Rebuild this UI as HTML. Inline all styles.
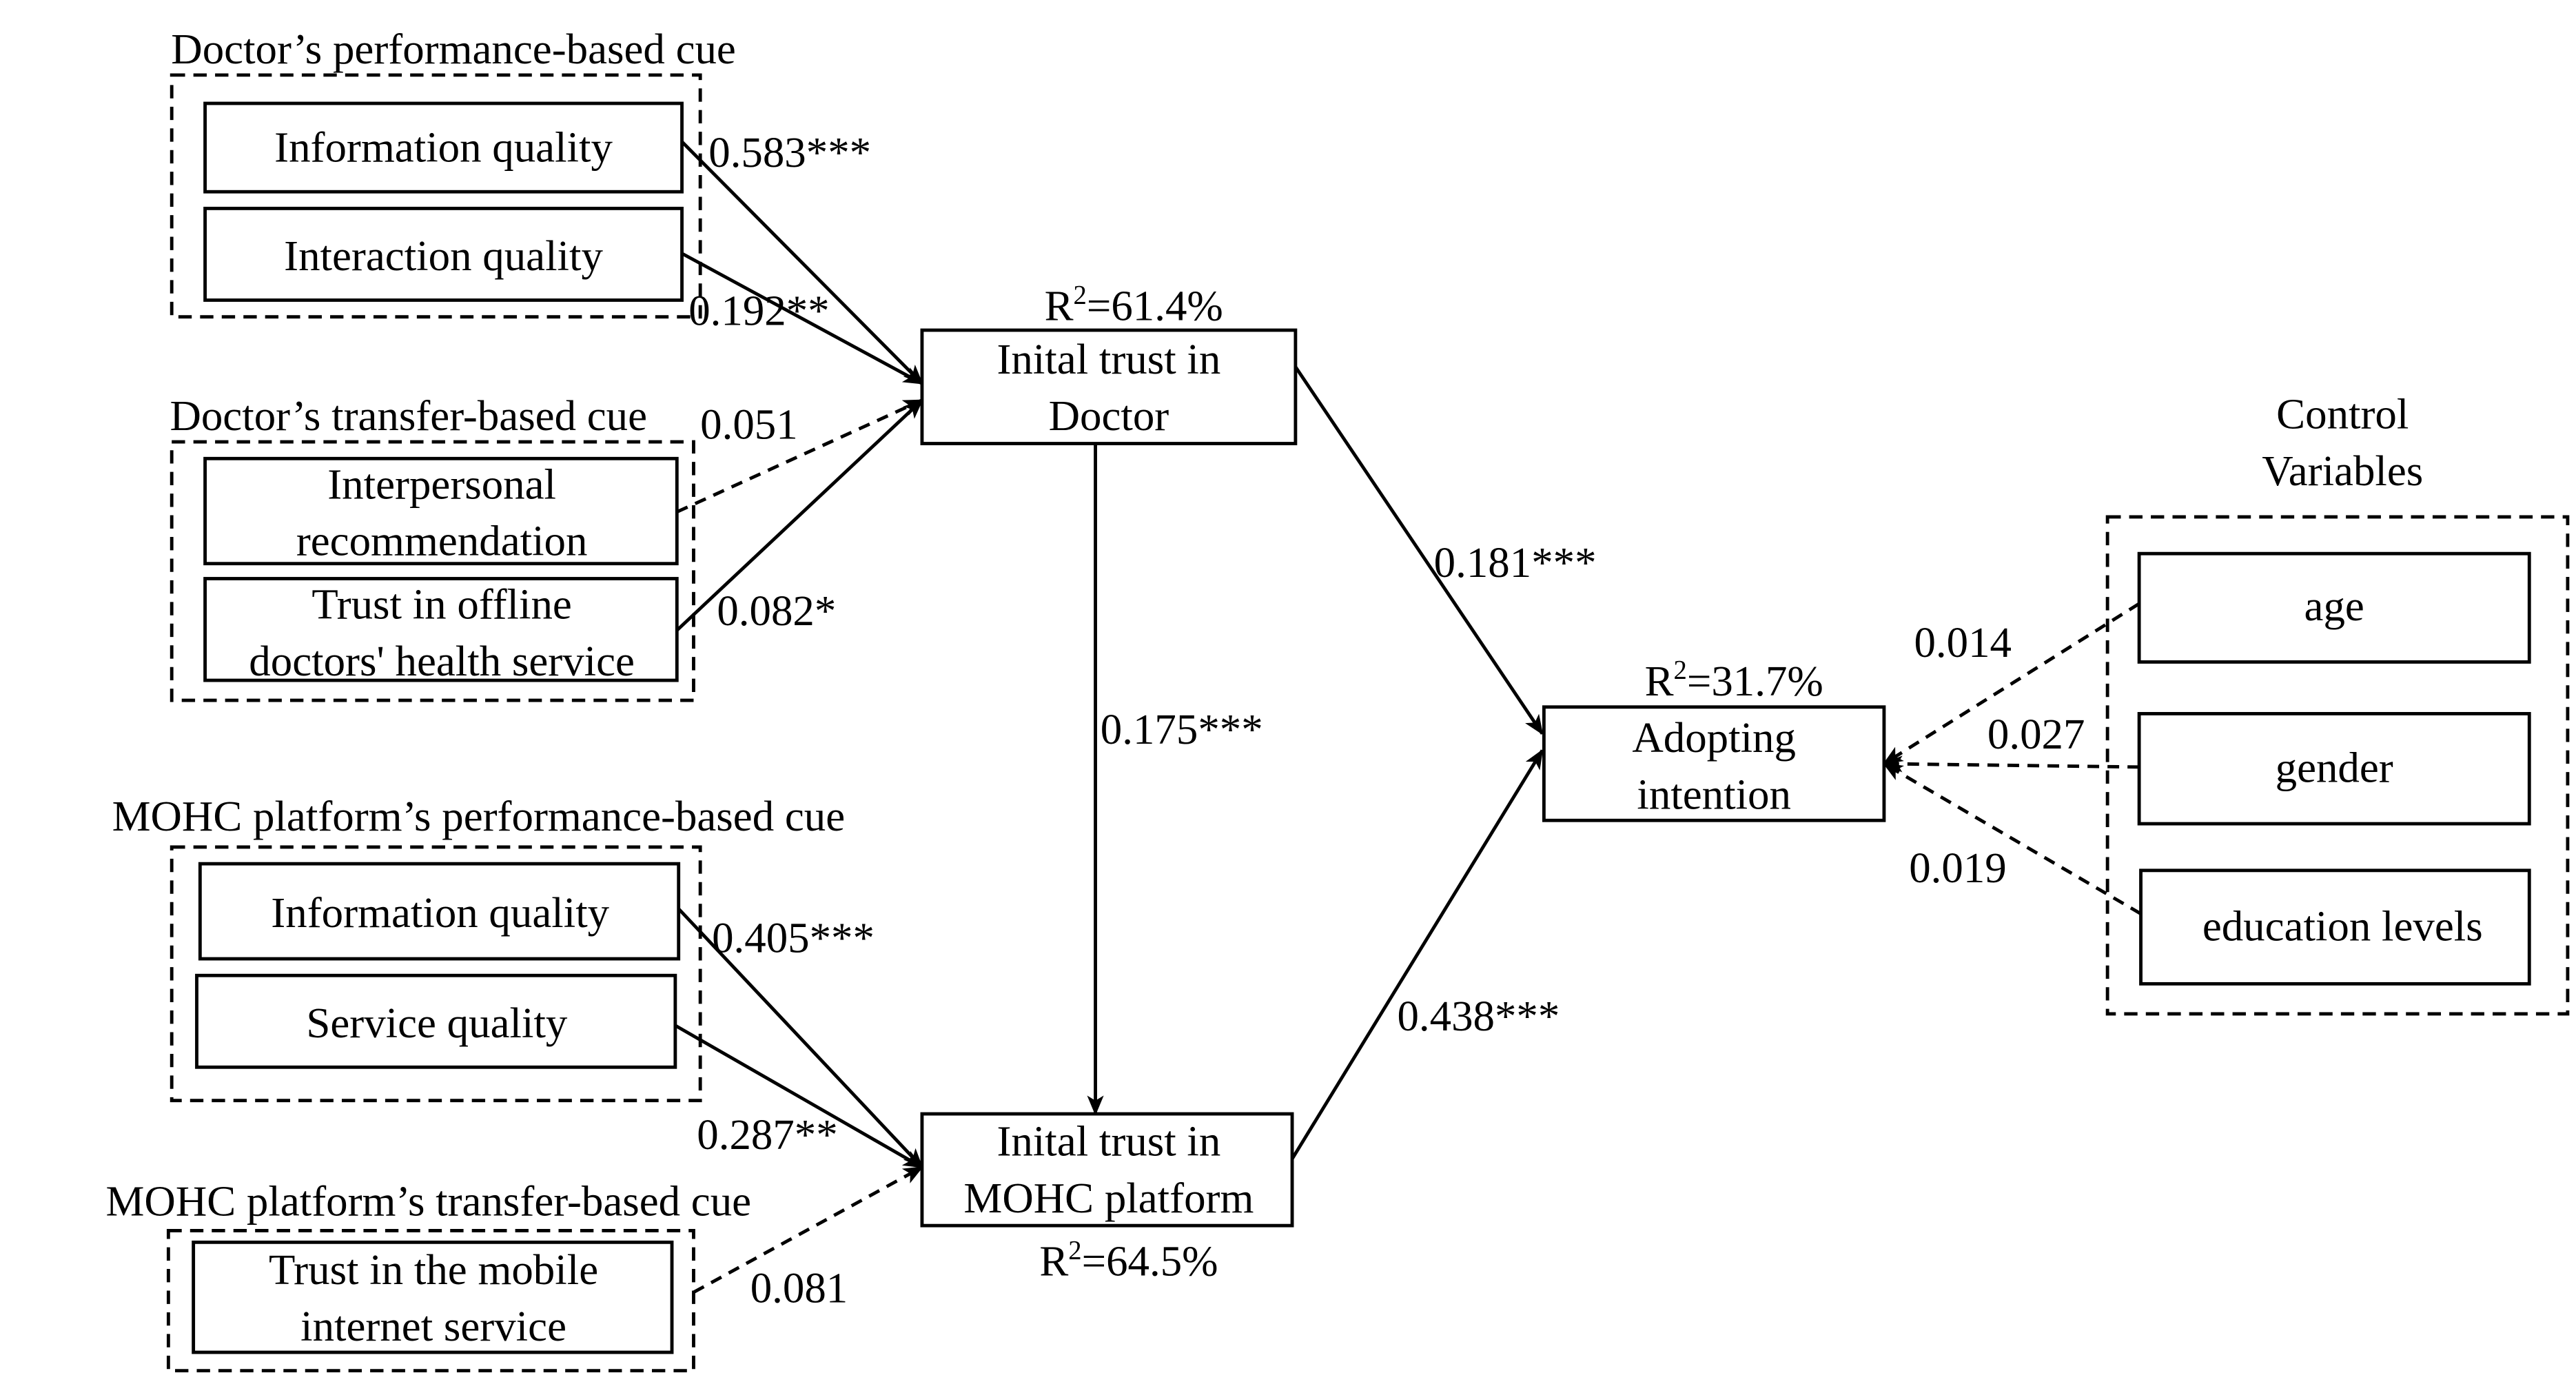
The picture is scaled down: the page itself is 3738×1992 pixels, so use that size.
<!DOCTYPE html>
<html><head><style>html,body{margin:0;padding:0;background:#fff}svg{display:block}</style></head>
<body>
<svg width="3738" height="1992" viewBox="0 0 1545 823.4" preserveAspectRatio="none" xmlns="http://www.w3.org/2000/svg" font-family="Liberation Serif, serif" font-size="26" fill="#000">
<defs><marker id="a" markerWidth="12" markerHeight="10" refX="11" refY="5" orient="auto" markerUnits="userSpaceOnUse"><path d="M0,0 L12,5 L0,10 L3,5 z"/></marker></defs>
<g fill="none" stroke="#000" stroke-width="2">
<g stroke-dasharray="8,5">
<rect x="103" y="45" width="317" height="145"/>
<rect x="103" y="265" width="313" height="155"/>
<rect x="103" y="508" width="317" height="152"/>
<rect x="101" y="738" width="315" height="84"/>
<rect x="1264" y="310" width="276" height="298"/>
</g>
<rect x="123" y="62" width="286" height="53"/>
<rect x="123" y="125" width="286" height="55"/>
<rect x="123" y="275" width="283" height="63"/>
<rect x="123" y="347" width="283" height="61"/>
<rect x="120" y="518" width="287" height="57"/>
<rect x="118" y="585" width="287" height="55"/>
<rect x="116" y="745" width="287" height="66"/>
<rect x="553" y="198" width="224" height="68"/>
<rect x="553" y="668" width="222" height="67"/>
<rect x="926" y="424" width="204" height="68"/>
<rect x="1283" y="332" width="234" height="65"/>
<rect x="1283" y="428" width="234" height="66"/>
<rect x="1284" y="522" width="233" height="68"/>
<g marker-end="url(#a)">
<line x1="409" y1="85" x2="553" y2="230"/>
<line x1="409" y1="152" x2="553" y2="230"/>
<line x1="406" y1="307" x2="553" y2="240" stroke-dasharray="7,5"/>
<line x1="406" y1="378" x2="553" y2="240"/>
<line x1="657" y1="266" x2="657" y2="668"/>
<line x1="777" y1="220" x2="925" y2="440"/>
<line x1="775" y1="695" x2="925" y2="450"/>
<line x1="407" y1="545" x2="553" y2="700"/>
<line x1="405" y1="615" x2="553" y2="700"/>
<line x1="416" y1="775" x2="553" y2="700" stroke-dasharray="7,5"/>
<line x1="1283" y1="362" x2="1130" y2="458" stroke-dasharray="7,5"/>
<line x1="1283" y1="460" x2="1130" y2="458" stroke-dasharray="7,5"/>
<line x1="1284" y1="548" x2="1130" y2="458" stroke-dasharray="7,5"/>
</g>
</g>
<g text-anchor="middle">
<text x="272" y="38">Doctor’s performance-based cue</text>
<text x="266" y="97">Information quality</text>
<text x="266" y="162">Interaction quality</text>
<text x="245" y="258">Doctor’s transfer-based cue</text>
<text x="265" y="299">Interpersonal</text>
<text x="265" y="333">recommendation</text>
<text x="265" y="371">Trust in offline</text>
<text x="265" y="405">doctors' health service</text>
<text x="287" y="498">MOHC platform’s performance-based cue</text>
<text x="264" y="556">Information quality</text>
<text x="262" y="622">Service quality</text>
<text x="257" y="729">MOHC platform’s transfer-based cue</text>
<text x="260" y="770">Trust in the mobile</text>
<text x="260" y="804">internet service</text>
<text x="665" y="224">Inital trust in</text>
<text x="665" y="258">Doctor</text>
<text x="680" y="192">R<tspan font-size="16" dy="-10">2</tspan><tspan dy="10">=61.4%</tspan></text>
<text x="665" y="693">Inital trust in</text>
<text x="665" y="727">MOHC platform</text>
<text x="677" y="765">R<tspan font-size="16" dy="-10">2</tspan><tspan dy="10">=64.5%</tspan></text>
<text x="1040" y="417">R<tspan font-size="16" dy="-10">2</tspan><tspan dy="10">=31.7%</tspan></text>
<text x="1028" y="451">Adopting</text>
<text x="1028" y="485">intention</text>
<text x="1405" y="257">Control</text>
<text x="1405" y="291">Variables</text>
<text x="1400" y="372">age</text>
<text x="1400" y="469">gender</text>
<text x="1405" y="564">education levels</text>
</g>
<g>
<text x="425" y="100">0.583***</text>
<text x="413" y="195">0.192**</text>
<text x="420" y="263">0.051</text>
<text x="430" y="375">0.082*</text>
<text x="660" y="446">0.175***</text>
<text x="860" y="346">0.181***</text>
<text x="838" y="618">0.438***</text>
<text x="427" y="571">0.405***</text>
<text x="418" y="689">0.287**</text>
<text x="450" y="781">0.081</text>
<text x="1148" y="394">0.014</text>
<text x="1192" y="449">0.027</text>
<text x="1145" y="529">0.019</text>
</g>
</svg>
</body></html>
